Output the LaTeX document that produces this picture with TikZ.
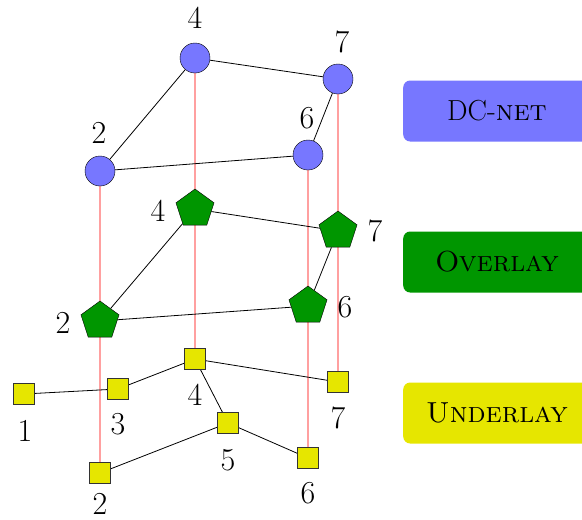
\documentclass[tikz,border=0pt]{standalone}
\usetikzlibrary{shapes.geometric}
\pgfdeclarelayer{background}
\pgfsetlayers{background,main}
\definecolor{dcblue}{RGB}{119,119,255}
\definecolor{ovgreen}{RGB}{0,150,0}
\definecolor{ulyellow}{RGB}{230,230,0}
\definecolor{linkpink}{RGB}{255,160,160}
\begin{document}
\begin{tikzpicture}[x=1pt,y=-1pt,
  every node/.style={font=\fontsize{29}{34}\selectfont},
  dcnode/.style={circle,draw=black,thin,fill=dcblue,minimum size=30pt,inner sep=0pt},
  ovnode/.style={regular polygon,regular polygon sides=5,draw=black,thin,fill=ovgreen,minimum size=40pt,inner sep=0pt},
  ulnode/.style={rectangle,draw=black!80,thin,fill=ulyellow,minimum size=21pt,inner sep=0pt},
  lbl/.style={inner sep=0pt,font=\fontsize{32}{36}\selectfont},
  layerbox/.style={rounded corners=7pt,minimum width=188pt,minimum height=61pt,anchor=west,inner sep=0pt},
  link/.style={black,line width=0.8pt},
  vert/.style={linkpink,line width=1.8pt}]
\useasboundingbox (0,0) rectangle (582,520);
\clip (0,0) rectangle (582,520);

% DC-net layer
\node[dcnode] (d4) at (195,58) {};
\node[dcnode] (d7) at (338,79) {};
\node[dcnode] (d6) at (308,155) {};
\node[dcnode] (d2) at (100,171) {};
\node[lbl] (ld4) at (195,18) {4};
\node[lbl] (ld7) at (342,42) {7};
\node[lbl] (ld6) at (307,118) {6};
\node[lbl] (ld2) at (99,133) {2};

% overlay layer
\node[ovnode] (o4) at (195,209) {};
\node[ovnode] (o7) at (338,231) {};
\node[ovnode] (o6) at (308,306) {};
\node[ovnode] (o2) at (100,321) {};
\node[lbl] (lo4) at (158,211) {4};
\node[lbl] (lo7) at (375,231) {7};
\node[lbl] (lo6) at (345,307) {6};
\node[lbl] (lo2) at (63,323) {2};

% underlay layer
\node[ulnode] (u1) at (24,394) {};
\node[ulnode] (u3) at (118,389) {};
\node[ulnode] (u4) at (195,359) {};
\node[ulnode] (u7) at (338,382) {};
\node[ulnode] (u5) at (228,423) {};
\node[ulnode] (u6) at (308,458) {};
\node[ulnode] (u2) at (100,473) {};
\node[lbl] (lu1) at (25,431) {1};
\node[lbl] (lu3) at (118,424) {3};
\node[lbl] (lu4) at (195,395) {4};
\node[lbl] (lu7) at (338,418) {7};
\node[lbl] (lu5) at (228,460) {5};
\node[lbl] (lu6) at (308,493) {6};
\node[lbl] (lu2) at (100,504) {2};

% legend boxes
\node[layerbox,fill=dcblue] (bdc) at (403,111) {};
\node (tdc) at (497,111) {DC-\textsc{net}};
\node[layerbox,fill=ovgreen] (bov) at (403,262) {};
\node (tov) at (497,262) {\textsc{Overlay}};
\node[layerbox,fill=ulyellow] (bul) at (403,413) {};
\node (tul) at (497,413) {\textsc{Underlay}};

\begin{pgfonlayer}{background}
  % vertical mapping between layers
  \draw[vert] (d2.center) -- (u2.center);
  \draw[vert] (d4.center) -- (u4.center);
  \draw[vert] (d6.center) -- (u6.center);
  \draw[vert] (d7.center) -- (u7.center);
  % DC-net edges
  \draw[link] (d4) -- (d7);
  \draw[link] (d4) -- (d2);
  \draw[link] (d2) -- (d6);
  \draw[link] (d6) -- (d7);
  % overlay edges
  \draw[link] (o4) -- (o7);
  \draw[link] (o4) -- (o2);
  \draw[link] (o2) -- (o6);
  \draw[link] (o6) -- (o7);
  % underlay edges
  \draw[link] (u1) -- (u3);
  \draw[link] (u3) -- (u4);
  \draw[link] (u4) -- (u7);
  \draw[link] (u4) -- (u5);
  \draw[link] (u5) -- (u2);
  \draw[link] (u5) -- (u6);
\end{pgfonlayer}
\end{tikzpicture}
\end{document}
